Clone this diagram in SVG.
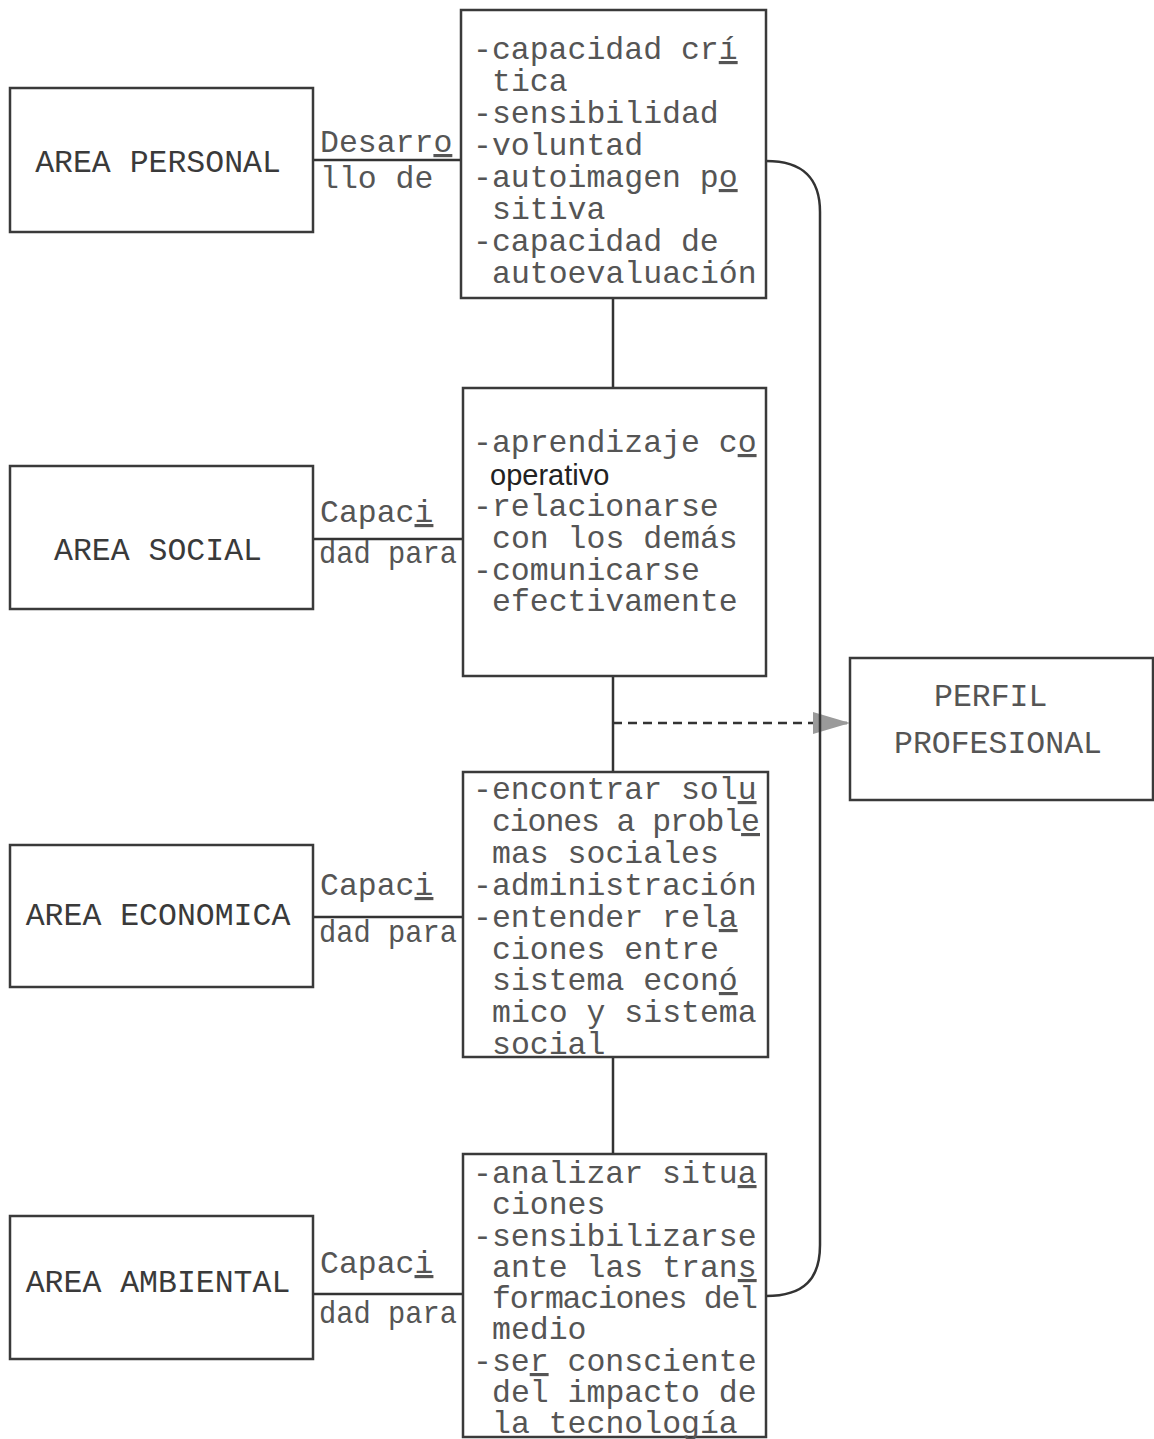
<svg xmlns="http://www.w3.org/2000/svg" width="1154" height="1439" viewBox="0 0 1154 1439">
<style>
.box{fill:#fff;stroke:#3a3a3a;stroke-width:2.5}
.ln{fill:none;stroke:#333;stroke-width:2.5}
.t{font-family:"Liberation Mono","Courier New",monospace;font-size:31.5px;fill:#555}
.area{font-family:"Liberation Mono","Courier New",monospace;font-size:31.5px;fill:#3a3a3a;text-anchor:middle}
.u{text-decoration:underline}
.sans{font-family:"Liberation Sans",Arial,sans-serif;font-size:29px;fill:#222}
</style>
<defs>
<marker id="arr" markerWidth="38" markerHeight="22" refX="37" refY="11" orient="auto" markerUnits="userSpaceOnUse">
<polygon points="0,0 37,11 0,22" fill="#9a9a9a"/>
</marker>
</defs>
<rect width="1154" height="1439" fill="#fff"/>
<g id="connectors">
<line class="ln" x1="313" y1="160" x2="461" y2="160"/>
<line class="ln" x1="313" y1="539" x2="463" y2="539"/>
<line class="ln" x1="313" y1="917" x2="463" y2="917"/>
<line class="ln" x1="313" y1="1294" x2="463" y2="1294"/>
<line class="ln" x1="613" y1="298" x2="613" y2="388"/>
<line class="ln" x1="613" y1="676" x2="613" y2="772"/>
<line class="ln" x1="613" y1="1057" x2="613" y2="1154"/>
<line class="ln" x1="613" y1="723" x2="850" y2="723" stroke-dasharray="9 6" marker-end="url(#arr)"/>
<path class="ln" d="M766,161 C805,161 820,180 820,212 V1245 C820,1278 805,1296 766,1296"/>
<text class="t" x="320" y="152">Desarr<tspan class="u">o</tspan></text>
<text class="t" x="320" y="188">llo de</text>
<text class="t" x="320" y="522">Capac<tspan class="u">i</tspan></text>
<text class="t" x="319" y="563" textLength="138" lengthAdjust="spacingAndGlyphs">dad para</text>
<text class="t" x="320" y="895">Capac<tspan class="u">i</tspan></text>
<text class="t" x="319" y="942" textLength="138" lengthAdjust="spacingAndGlyphs">dad para</text>
<text class="t" x="320" y="1273">Capac<tspan class="u">i</tspan></text>
<text class="t" x="319" y="1323" textLength="138" lengthAdjust="spacingAndGlyphs">dad para</text>
</g>
<g id="area-personal">
<rect class="box" x="10" y="88" width="303" height="144"/>
<text class="area" x="158" y="172">AREA PERSONAL</text>
</g>
<g id="area-social">
<rect class="box" x="10" y="466" width="303" height="143"/>
<text class="area" x="158" y="560">AREA SOCIAL</text>
</g>
<g id="area-economica">
<rect class="box" x="10" y="845" width="303" height="142"/>
<text class="area" x="158" y="925">AREA ECONOMICA</text>
</g>
<g id="area-ambiental">
<rect class="box" x="10" y="1216" width="303" height="143"/>
<text class="area" x="158" y="1292">AREA AMBIENTAL</text>
</g>
<g id="personal-list">
<rect class="box" x="461" y="10" width="305" height="288"/>
<text class="t" x="473" y="59">-capacidad cr<tspan class="u">í</tspan></text>
<text class="t" x="492" y="91">tica</text>
<text class="t" x="473" y="123">-sensibilidad</text>
<text class="t" x="473" y="155">-voluntad</text>
<text class="t" x="473" y="187">-autoimagen p<tspan class="u">o</tspan></text>
<text class="t" x="492" y="219">sitiva</text>
<text class="t" x="473" y="251">-capacidad de</text>
<text class="t" x="492" y="283">autoevaluación</text>
</g>
<g id="social-list">
<rect class="box" x="463" y="388" width="303" height="288"/>
<text class="t" x="473" y="452">-aprendizaje c<tspan class="u">o</tspan></text>
<text class="sans" x="490" y="485">operativo</text>
<text class="t" x="473" y="516">-relacionarse</text>
<text class="t" x="492" y="548">con los demás</text>
<text class="t" x="473" y="580">-comunicarse</text>
<text class="t" x="492" y="611">efectivamente</text>
</g>
<g id="economica-list">
<rect class="box" x="463" y="772" width="305" height="285"/>
<text class="t" x="473" y="799">-encontrar sol<tspan class="u">u</tspan></text>
<text class="t" x="492" y="831" textLength="268" lengthAdjust="spacing">ciones a probl<tspan class="u">e</tspan></text>
<text class="t" x="492" y="863">mas sociales</text>
<text class="t" x="473" y="895">-administración</text>
<text class="t" x="473" y="927">-entender rel<tspan class="u">a</tspan></text>
<text class="t" x="492" y="959">ciones entre</text>
<text class="t" x="492" y="990">sistema econ<tspan class="u">ó</tspan></text>
<text class="t" x="492" y="1022">mico y sistema</text>
<text class="t" x="492" y="1054">social</text>
</g>
<g id="ambiental-list">
<rect class="box" x="463" y="1154" width="303" height="283"/>
<text class="t" x="473" y="1183">-analizar situ<tspan class="u">a</tspan></text>
<text class="t" x="492" y="1214">ciones</text>
<text class="t" x="473" y="1246">-sensibilizarse</text>
<text class="t" x="492" y="1277">ante las tran<tspan class="u">s</tspan></text>
<text class="t" x="492" y="1308" textLength="266" lengthAdjust="spacing">formaciones del</text>
<text class="t" x="492" y="1339">medio</text>
<text class="t" x="473" y="1371">-se<tspan class="u">r</tspan> consciente</text>
<text class="t" x="492" y="1402">del impacto de</text>
<text class="t" x="492" y="1433">la tecnología</text>
</g>
<g id="perfil-profesional">
<rect class="box" x="850" y="658" width="303" height="142"/>
<text class="t" x="934" y="706">PERFIL</text>
<text class="t" x="894" y="753">PROFESIONAL</text>
</g>
</svg>
